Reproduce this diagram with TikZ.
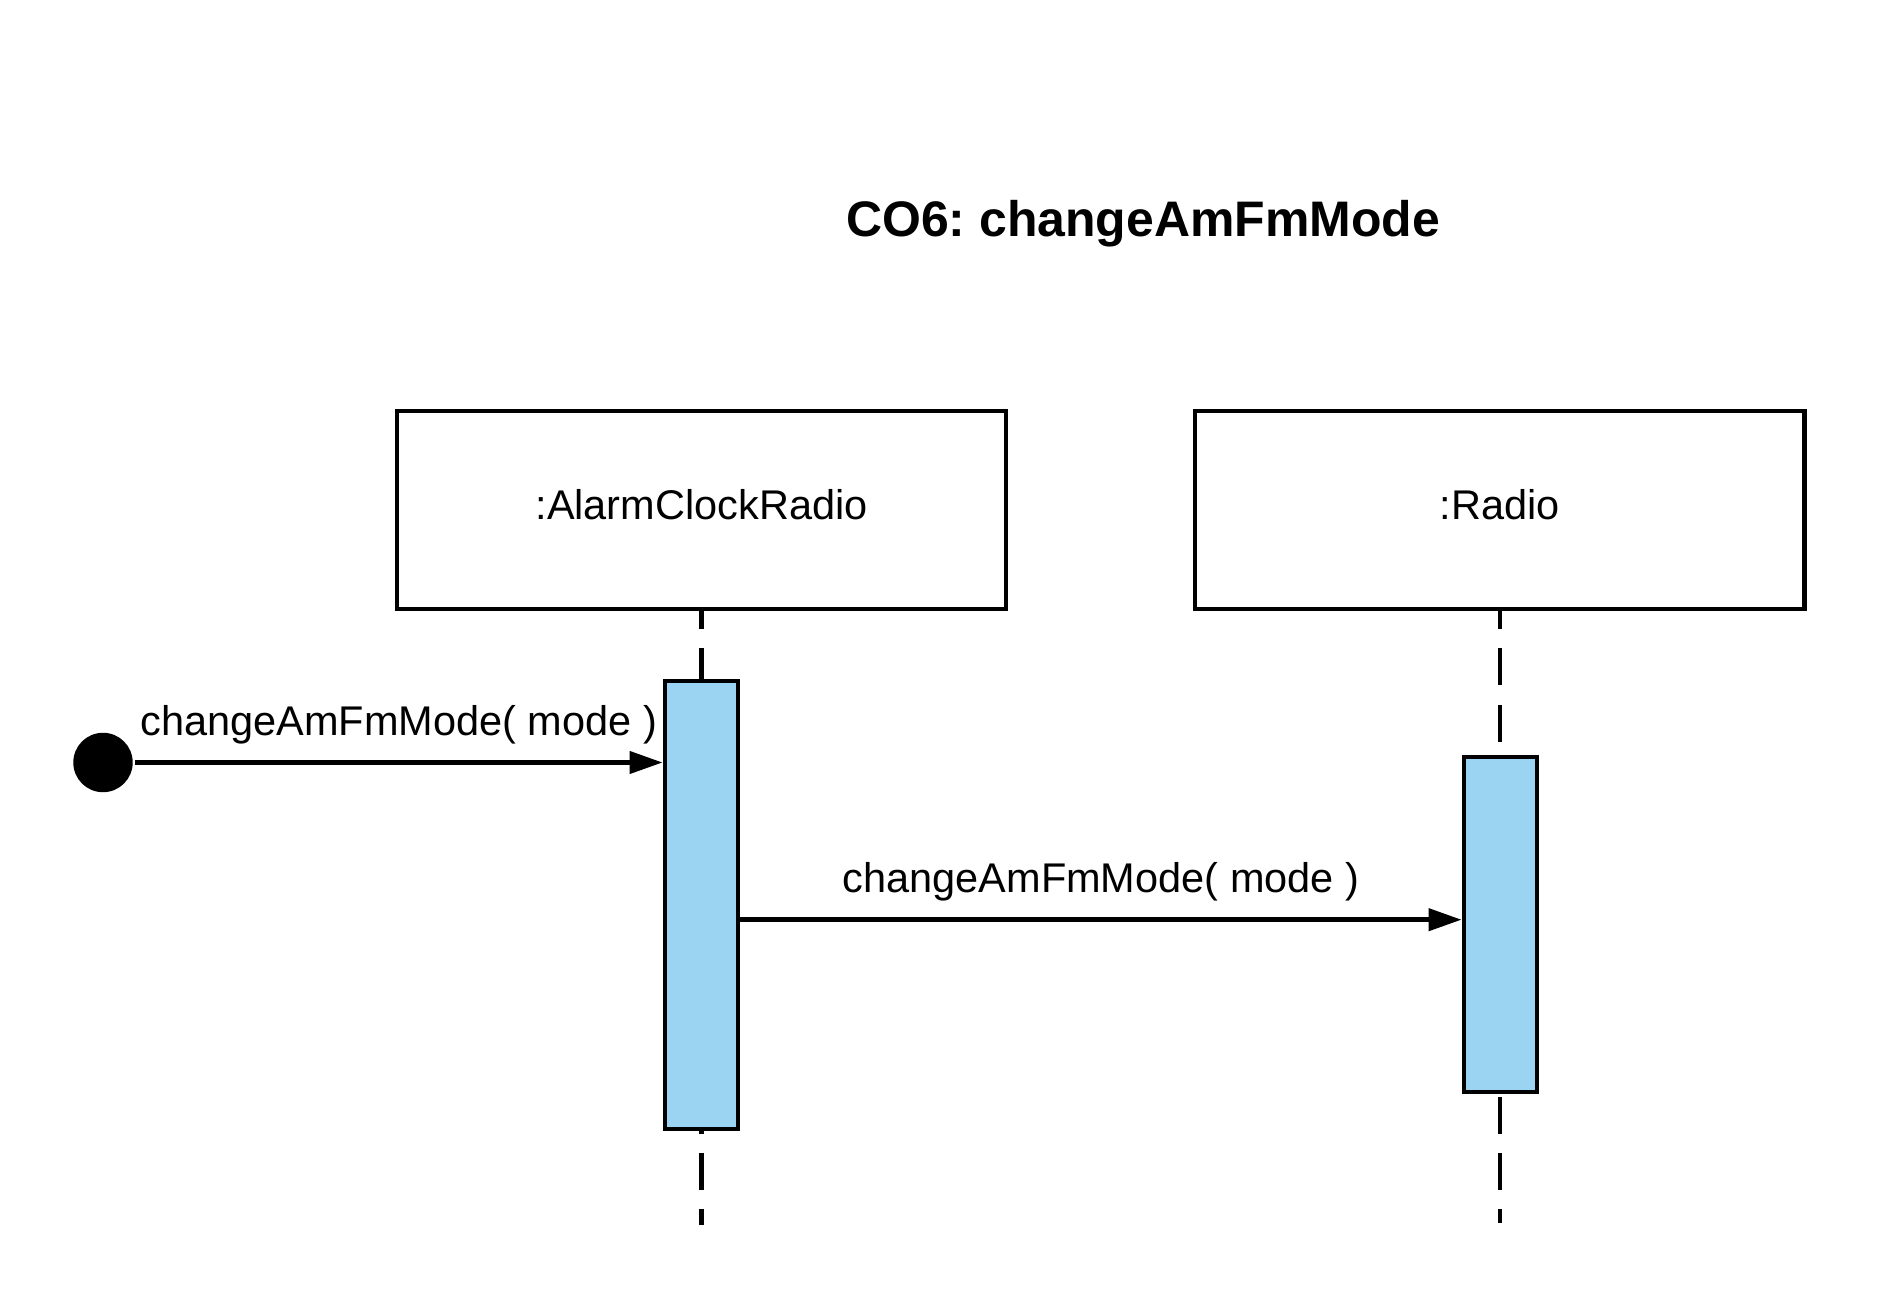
\documentclass[tikz,border=0pt]{standalone}
\usepackage{fontspec}
\setmainfont{Liberation Sans}
\usetikzlibrary{arrows.meta}
\definecolor{activation}{RGB}{155,211,243}
\begin{document}
\begin{tikzpicture}[x=0.01cm, y=-0.01cm, line width=1.25pt,
    object/.style={draw, rectangle, inner sep=0, minimum width=6.09cm,
                   minimum height=1.98cm, text depth=0.3em,
                   font=\fontsize{11.8}{14}\selectfont},
    active/.style={draw, fill=activation, inner sep=0, minimum width=0.735cm},
    lifeline/.style={dash pattern=on 3.7mm off 1.9mm, dash phase=1.87mm},
    msg/.style={-{Triangle[length=3.3mm, width=2.2mm]}},
    msglabel/.style={above=1.6mm, inner sep=0, font=\fontsize{11.8}{14}\selectfont}]

    \useasboundingbox (0,0) rectangle (1881,1301);

    % Title
    \node [anchor=base west, inner sep=0, font=\bfseries\fontsize{14.2}{17}\selectfont]
          (title) at (844,236.7) {CO6:\ changeAmFmMode};

    % Objects
    \node [object] (box1) at (701.5,509.9) {:AlarmClockRadio};
    \node [object] (box2) at (1499.7,509.9) {:Radio};

    % Lifelines
    \coordinate (end1) at (701.5,1225);
    \coordinate (end2) at (1499.7,1223);
    \foreach \i in {1, 2} {
      \draw [lifeline] (box\i.south) -- (end\i);
    }

    % Activations
    \node [active, minimum height=4.48cm] (act1) at (701.5,905) {};
    \node [active, minimum height=3.35cm] (act2) at (1500.5,924.5) {};

    % Messages
    \node [circle, fill, inner sep=0, minimum size=5.94mm] (start) at (103,762.5) {};
    \draw [msg] (start) -- (start -| act1.west)
          node [msglabel, midway] {changeAmFmMode( mode )};
    \path (act1.east) ++(0,14.7) coordinate (call2);
    \draw [msg] (call2) -- (call2 -| act2.west)
          node [msglabel, midway] {changeAmFmMode( mode )};
\end{tikzpicture}
\end{document}
